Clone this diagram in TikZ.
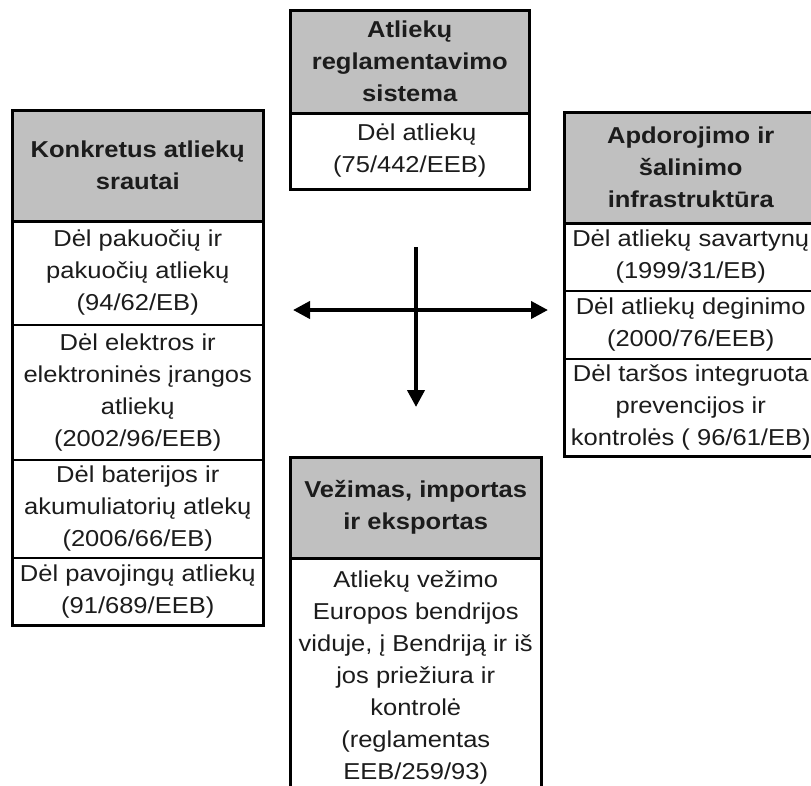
\documentclass[tikz,border=0pt]{standalone}
\usepackage{fontspec}
\setmainfont{Liberation Sans}[FakeStretch=1.11]
\usetikzlibrary{arrows.meta}
\definecolor{hdrgray}{RGB}{192,192,192}
\definecolor{txt}{RGB}{28,28,28}
\tikzset{
  cell/.style={draw=black, line width=1.5pt, anchor=north west, inner sep=0pt,
    align=center, text=txt, font=\fontsize{23}{32}\selectfont},
  hdr/.style={cell, fill=hdrgray, font=\bfseries\fontsize{23}{32}\selectfont},
  frame/.style={draw=black, line width=3pt},
  arr/.style={line width=4pt, -{Triangle[length=17pt,width=17pt]}},
}
\begin{document}
\begin{tikzpicture}[x=1pt,y=-1pt]
\useasboundingbox[fill=white] (0,0) rectangle (811,785);

% top box
\node[hdr, minimum width=238pt, minimum height=102pt] (th) at (290,10) {Atliekų\\reglamentavimo\\sistema};
\node[cell, minimum width=238pt, minimum height=76pt] (t1) at (290,112) {\hspace*{14pt}Dėl atliekų\\(75/442/EEB)};
\draw[frame] (th.north west) rectangle (t1.south east);
\draw[frame] (th.south west) -- (th.south east);

% left box
\node[hdr, minimum width=250pt, minimum height=110pt] (lh) at (12,110) {Konkretus atliekų\\srautai};
\node[cell, minimum width=250pt, minimum height=104pt] (l1) at (12,220) {Dėl pakuočių ir\\pakuočių atliekų\\(94/62/EB)};
\node[cell, minimum width=250pt, minimum height=135pt] (l2) at (12,324) {Dėl elektros ir\\elektroninės įrangos\\atliekų\\(2002/96/EEB)};
\node[cell, minimum width=250pt, minimum height=98pt] (l3) at (12,459) {Dėl baterijos ir\\akumuliatorių atlekų\\(2006/66/EB)};
\node[cell, minimum width=250pt, minimum height=67pt] (l4) at (12,557) {Dėl pavojingų atliekų\\(91/689/EEB)};
\draw[frame] (lh.north west) rectangle (l4.south east);
\draw[frame] (lh.south west) -- (lh.south east);

% right box (its right border lies just past the picture's edge)
\node[hdr, minimum width=252pt, minimum height=110pt] (rh) at (564,112) {Apdorojimo ir\\šalinimo\\infrastruktūra};
\node[cell, minimum width=252pt, minimum height=68pt] (r1) at (564,222) {Dėl atliekų savartynų\\(1999/31/EB)};
\node[cell, minimum width=252pt, minimum height=68pt] (r2) at (564,290) {Dėl atliekų deginimo\\(2000/76/EEB)};
\node[cell, minimum width=252pt, minimum height=97pt] (r3) at (564,358) {Dėl taršos integruota\\prevencijos ir\\kontrolės ( 96/61/EB)};
\draw[frame] (rh.north west) rectangle (r3.south east);
\draw[frame] (rh.south west) -- (rh.south east);

% bottom box
\node[hdr, minimum width=250pt, minimum height=100pt] (bh) at (290,457) {Vežimas, importas\\ir eksportas};
\node[cell, minimum width=250pt, minimum height=240pt] (b1) at (290,557) {Atliekų vežimo\\Europos bendrijos\\viduje, į Bendriją ir iš\\jos priežiura ir\\kontrolė\\(reglamentas\\EEB/259/93)};
\draw[frame] (bh.north west) rectangle (b1.south east);
\draw[frame] (bh.south west) -- (bh.south east);

% arrows
\coordinate (ctr) at (416,310);
\coordinate (west) at (293,310);
\coordinate (east) at (548,310);
\coordinate (north) at (416,247);
\coordinate (south) at (416,407);
\draw[line width=4pt] (north) -- (ctr);
\draw[arr] (ctr) -- (west);
\draw[arr] (ctr) -- (east);
\draw[arr] (ctr) -- (south);
\end{tikzpicture}
\end{document}
